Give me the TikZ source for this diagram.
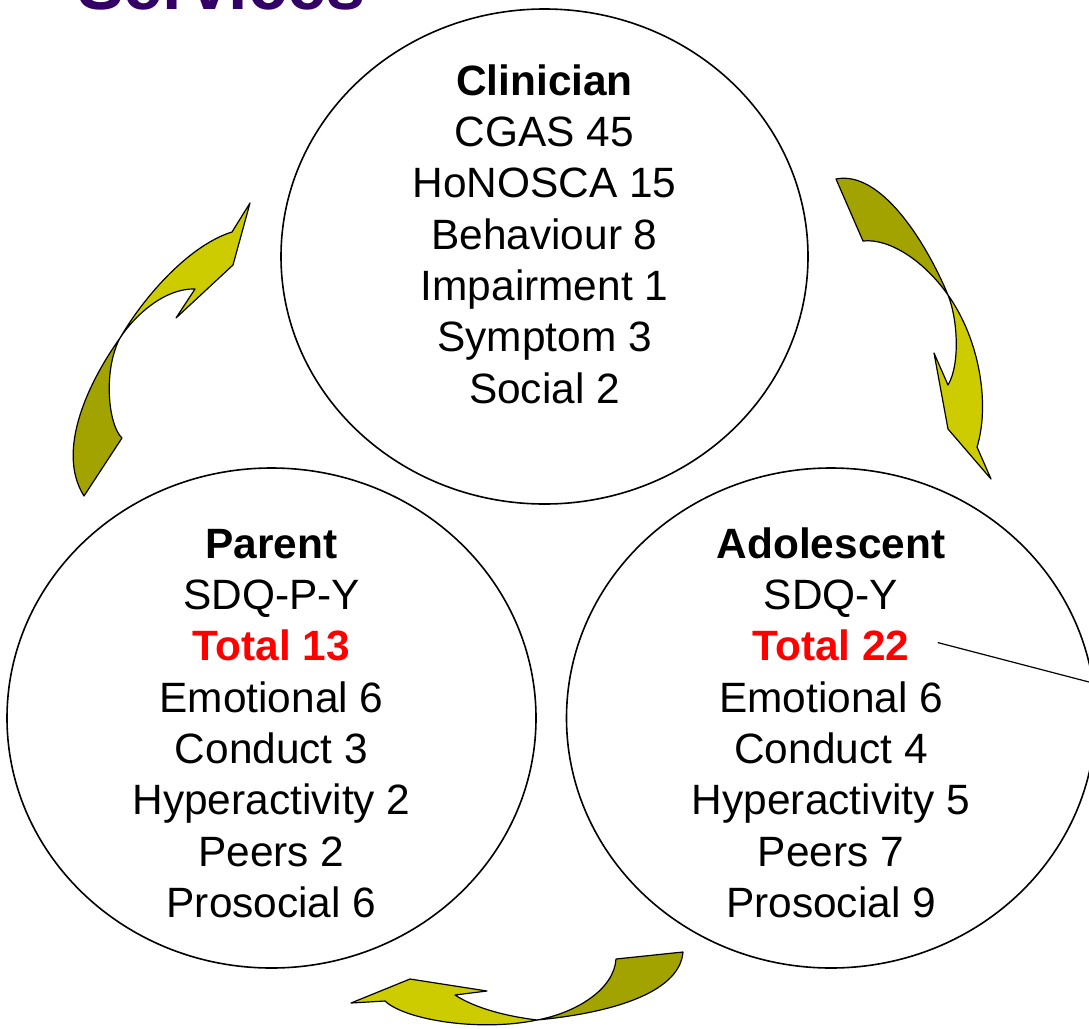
\documentclass[tikz,border=0pt]{standalone}
\usepackage{fontspec}
\setmainfont{Liberation Sans}
\usetikzlibrary{shapes.geometric}
\definecolor{arrlight}{RGB}{204,204,0}
\definecolor{arrdark}{RGB}{163,163,0}
\definecolor{titlepurple}{RGB}{51,0,102}
\definecolor{totalred}{RGB}{255,0,0}
\begin{document}
\begin{tikzpicture}[x=1pt,y=-1pt,
  bubble/.style={draw=black,line width=1.6pt,ellipse,inner sep=0pt,minimum width=528pt,minimum height=498pt},
  txt/.style={anchor=base,inner sep=0pt,font=\fontsize{42.4}{51}\selectfont},
  hdr/.style={txt,font=\fontsize{42.4}{51}\selectfont\bfseries},
  tot/.style={hdr,text=totalred},
  arrl/.style={fill=arrlight,draw=black,line width=1.2pt,line join=round},
  arrd/.style={fill=arrdark,draw=black,line width=1.2pt,line join=round},
  pointer/.style={draw=black,line width=1.2pt}
]
\useasboundingbox (0,0) rectangle (1089,1028);
\clip (0,0) rectangle (1089,1028);

% title (cut off at top)
\node[anchor=base west,inner sep=0pt,font=\fontsize{70}{84}\selectfont\bfseries,text=titlepurple] (title) at (77,9) {Services};

% bubbles
\node[bubble,minimum width=527pt,minimum height=495pt] (clin) at (544.5,256.5) {};
\node[bubble,minimum width=529pt,minimum height=500pt] (par) at (271.5,718) {};
\node[bubble,minimum width=529pt,minimum height=500pt] (ado) at (831,718) {};

% clinician text
\node[hdr] (c0) at (544.5,95) {Clinician};
\node[txt] (c1) at (544.5,146.3) {CGAS 45};
\node[txt] (c2) at (544.5,197.7) {HoNOSCA 15};
\node[txt] (c3) at (544.5,249) {Behaviour 8};
\node[txt] (c4) at (544.5,300.3) {Impairment 1};
\node[txt] (c5) at (544.5,351.7) {Symptom 3};
\node[txt] (c6) at (544.5,403) {Social 2};

% parent text
\node[hdr] (p0) at (271.5,558) {Parent};
\node[txt] (p1) at (271.5,609.3) {SDQ-P-Y};
\node[tot] (p2) at (271.5,660.7) {Total 13};
\node[txt] (p3) at (271.5,712) {Emotional 6};
\node[txt] (p4) at (271.5,763.3) {Conduct 3};
\node[txt] (p5) at (271.5,814.7) {Hyperactivity 2};
\node[txt] (p6) at (271.5,866) {Peers 2};
\node[txt] (p7) at (271.5,917.3) {Prosocial 6};

% adolescent text
\node[hdr] (a0) at (831,558) {Adolescent};
\node[txt] (a1) at (831,609.3) {SDQ-Y};
\node[tot] (a2) at (831,660.7) {Total 22};
\node[txt] (a3) at (831,712) {Emotional 6};
\node[txt] (a4) at (831,763.3) {Conduct 4};
\node[txt] (a5) at (831,814.7) {Hyperactivity 5};
\node[txt] (a6) at (831,866) {Peers 7};
\node[txt] (a7) at (831,917.3) {Prosocial 9};

% pointer line from Total 22 off the right edge
\coordinate (lineend) at (1089,682);
\draw[pointer] ([xshift=28pt,yshift=3pt]a2.east) -- (lineend);

% left curved arrow (parent -> clinician)
\draw[arrd] (120,338) .. controls (90,380) and (55,450) .. (84,496) -- (122,438)
  .. controls (108,425) and (103,370) .. (120,338) -- cycle;
\draw[arrl] (120,338) .. controls (145,295) and (190,245) .. (232,232) -- (250,203) -- (233,265)
  -- (176,318) -- (195,289) .. controls (165,288) and (135,315) .. (120,338) -- cycle;

% right curved arrow (clinician -> adolescent)
\draw[arrd] (836,179) .. controls (880,170) and (925,240) .. (948,295)
  .. controls (925,262) and (890,238) .. (863,241) -- cycle;
\draw[arrl] (948,295) .. controls (958,320) and (960,365) .. (948,385) -- (934,353) -- (948,429)
  -- (991,479) -- (977,447) .. controls (990,405) and (980,340) .. (948,295) -- cycle;

% bottom curved arrow (adolescent -> parent)
\draw[arrd] (683,952) -- (616,959) .. controls (614,990) and (575,1013) .. (537,1020)
  .. controls (620,1012) and (680,990) .. (683,952) -- cycle;
\draw[arrl] (537,1020) .. controls (505,1016) and (475,1008) .. (455,995) -- (487,991) -- (410,979)
  -- (351,1003) -- (385,1001) .. controls (405,1020) and (480,1032) .. (537,1020) -- cycle;
\end{tikzpicture}
\end{document}
